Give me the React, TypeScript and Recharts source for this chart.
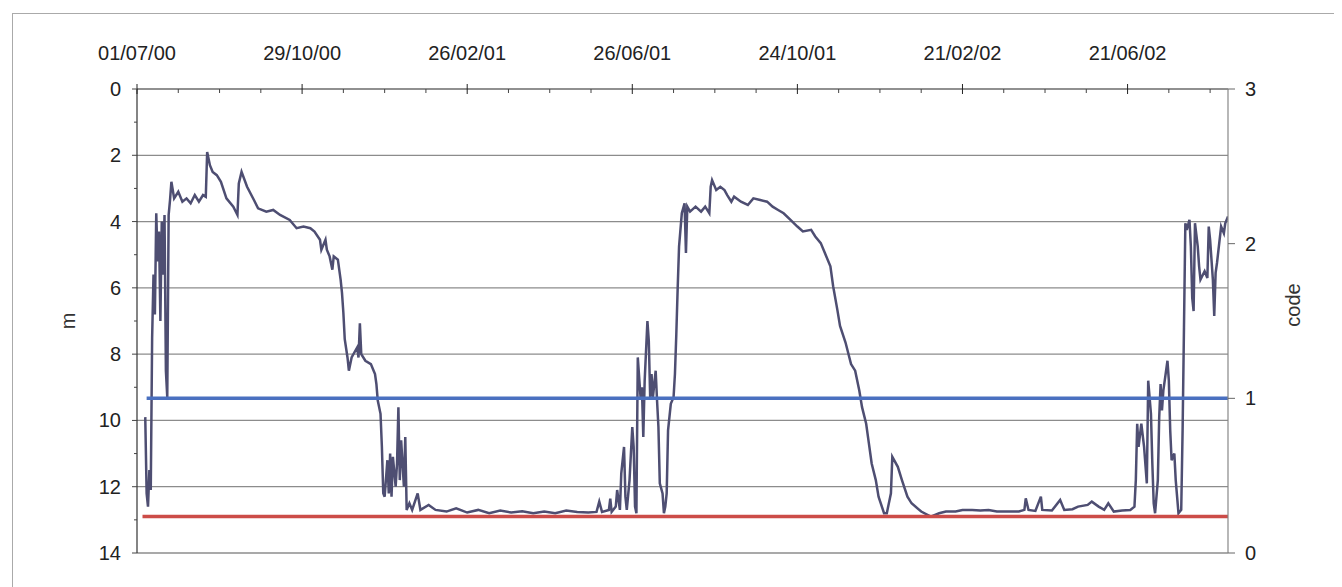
import React from 'react'
import { LineChart, Line, XAxis, YAxis, ReferenceLine } from 'recharts'

// day offsets counted from 01/07/00
const days = [
  6, 7, 8, 9, 10, 11, 12, 13, 14, 15, 16, 17, 18, 19, 20, 21, 22, 23, 24, 25, 27, 30, 33, 36, 39, 42, 45, 48, 50, 51,
  53, 55, 58, 61, 65, 70, 73, 74, 76, 80, 85, 88, 94, 99, 104, 111, 116, 121, 126, 129, 133, 134, 137, 138, 140, 142,
  143, 146, 148, 149, 150, 151, 153, 154, 156, 160, 161, 162, 163, 166, 170, 172, 173, 174, 175, 177, 178, 179, 180,
  182, 183, 184, 185, 186, 188, 189, 190, 191, 192, 194, 195, 196, 198, 200, 204, 206, 212, 217, 225, 232, 240, 248,
  256, 264, 272, 280, 288, 296, 304, 312, 320, 328, 334, 336, 338, 343, 344, 345, 348, 349, 351, 352, 354, 355, 356,
  358, 360, 361, 362, 363, 364, 366, 367, 368, 369, 371, 372, 373, 374, 375, 377, 378, 379, 380, 382, 383, 384, 385,
  386, 388, 390, 391, 392, 393, 394, 395, 396, 398, 399, 400, 402, 406, 410, 413, 416, 417, 418, 421, 424, 427, 429,
  432, 434, 439, 444, 448, 453, 458, 462, 466, 470, 475, 480, 484, 490, 493, 497, 500, 504, 506, 509, 511, 515, 519,
  522, 525, 527, 530, 532, 534, 537, 539, 543, 545, 548, 549, 553, 556, 560, 563, 570, 577, 583, 588, 595, 600, 607,
  613, 619, 625, 631, 636, 641, 645, 646, 648, 653, 657, 658, 665, 671, 674, 680, 684, 691, 694, 699, 703, 706, 710,
  716, 722, 725, 726, 727, 728, 730, 732, 734, 735, 737, 738, 739, 740, 742, 743, 744, 745, 746, 749, 750, 751, 752,
  754, 755, 756, 757, 759, 760, 761, 762, 763, 765, 766, 767, 768, 769, 771, 772, 773, 776, 778, 779, 780, 782, 783,
  784, 785, 788, 790, 791, 793,
]

// depth in m
const depthM = [
  9.9, 12.2, 12.6, 11.5, 12.1, 7.5, 5.6, 6.8, 3.75, 5.2, 4.3, 7.0, 4.0, 5.6, 3.8, 8.5, 9.3, 3.8, 3.35, 2.8, 3.3, 3.1,
  3.4, 3.3, 3.45, 3.2, 3.4, 3.2, 3.25, 1.9, 2.3, 2.5, 2.6, 2.8, 3.3, 3.55, 3.8, 2.85, 2.5, 2.95, 3.35, 3.6, 3.7, 3.65,
  3.8, 3.95, 4.2, 4.15, 4.2, 4.3, 4.55, 4.85, 4.55, 4.85, 5.05, 5.45, 5.05, 5.15, 5.75, 6.15, 6.75, 7.55, 8.1, 8.5,
  8.1, 7.8, 8.1, 7.07, 8.0, 8.2, 8.3, 8.5, 8.6, 8.9, 9.4, 9.8, 10.8, 12.2, 12.3, 11.2, 12.2, 11.0, 12.3, 11.1, 12.0,
  11.3, 9.6, 11.8, 10.6, 12.0, 10.5, 12.7, 12.5, 12.7, 12.2, 12.7, 12.55, 12.7, 12.75, 12.65, 12.78, 12.7, 12.8,
  12.72, 12.78, 12.74, 12.8, 12.75, 12.8, 12.72, 12.76, 12.78, 12.76, 12.45, 12.76, 12.7, 12.36, 12.76, 12.6, 12.1,
  12.7, 11.6, 10.8, 12.3, 12.7, 11.8, 10.2, 10.8, 12.6, 12.8, 8.1, 9.3, 9.0, 10.5, 8.8, 7.0, 7.6, 9.3, 8.6, 9.3, 8.5,
  9.4, 10.2, 11.9, 12.2, 12.8, 12.6, 12.2, 10.3, 9.5, 9.3, 8.6, 7.4, 6.0, 4.75, 4.25, 3.75, 3.45, 4.95, 3.55, 3.7,
  3.55, 3.7, 3.55, 3.75, 2.95, 2.75, 3.05, 2.95, 3.05, 3.2, 3.4, 3.25, 3.4, 3.5, 3.3, 3.35, 3.4, 3.55, 3.65, 3.75,
  3.95, 4.15, 4.3, 4.25, 4.45, 4.65, 4.95, 5.35, 5.95, 6.65, 7.15, 7.65, 8.3, 8.5, 9.1, 9.6, 10.1, 10.7, 11.3, 11.8,
  12.3, 12.8, 12.8, 12.2, 11.1, 11.4, 11.8, 12.3, 12.5, 12.75, 12.9, 12.8, 12.75, 12.75, 12.7, 12.7, 12.72, 12.7,
  12.75, 12.75, 12.75, 12.75, 12.7, 12.35, 12.7, 12.73, 12.3, 12.7, 12.72, 12.4, 12.7, 12.68, 12.6, 12.55, 12.45,
  12.6, 12.7, 12.5, 12.75, 12.72, 12.7, 12.6, 11.8, 10.1, 10.8, 10.1, 10.8, 11.9, 8.8, 9.8, 11.3, 12.5, 12.8, 11.8,
  9.9, 8.9, 9.7, 9.1, 8.2, 8.8, 10.3, 11.2, 11.0, 11.8, 12.3, 12.8, 12.7, 10.3, 7.2, 4.05, 4.25, 3.95, 4.75, 6.3, 6.7,
  4.05, 4.75, 5.35, 5.75, 5.5, 5.7, 4.15, 4.55, 5.75, 6.85, 5.55, 5.25, 4.15, 4.35, 4.05, 3.85,
]

// threshold lines
const blueDays = [7, 793]
const blueCode = [1, 1]
const redDays = [4, 793]
const redDepth = [12.9, 12.9]

const dateLabels = ['01/07/00', '29/10/00', '26/02/01', '26/06/01', '24/10/01', '21/02/02', '21/06/02']
const dayTicks = [
  0, 30, 60, 90, 120, 150, 180, 210, 240, 270, 300, 330, 360, 390, 420, 450, 480, 510, 540, 570, 600, 630, 660, 690,
  720, 750, 780,
]
const depthTicks = [0, 1, 2, 3, 4, 5, 6, 7, 8, 9, 10, 11, 12, 13, 14]
const gridDepths = [2, 4, 6, 8, 10, 12, 14]
const codeTicks = [0, 1, 2, 3]

const FONT = "Arial, 'Liberation Sans', sans-serif"

const depthData = days.map((d, i) => ({ day: d, depth: depthM[i] }))
const blueData = blueDays.map((d, i) => ({ day: d, code: blueCode[i] }))
const redData = redDays.map((d, i) => ({ day: d, depth: redDepth[i] }))

const DateTick = ({ x, y, payload }: any) => {
  const v = payload.value
  const major = v % 120 === 0
  return (
    <g>
      {major ? (
        <line x1={x} x2={x} y1={y - 5} y2={y + 5} stroke="#222" />
      ) : (
        <line x1={x} x2={x} y1={y} y2={y + 4} stroke="#444" />
      )}
      {major && (
        <text x={x} y={y - 29} textAnchor="middle" fontSize={20} fontFamily={FONT} fill="#222">
          {dateLabels[v / 120]}
        </text>
      )}
    </g>
  )
}

const DepthTick = ({ x, y, payload }: any) => {
  const v = payload.value
  const major = v % 2 === 0
  return (
    <g>
      <line x1={x - (major ? 5 : 3)} x2={x} y1={y} y2={y} stroke="#444" />
      {major && (
        <text x={x - 16} y={y + 7} textAnchor="end" fontSize={20} fontFamily={FONT} fill="#222">
          {v}
        </text>
      )}
    </g>
  )
}

const CodeTick = ({ x, y, payload }: any) => (
  <g>
    <line x1={x} x2={x + 7} y1={y} y2={y} stroke="#666" />
    <text x={x + 17} y={y + 7} textAnchor="start" fontSize={20} fontFamily={FONT} fill="#222">
      {payload.value}
    </text>
  </g>
)

export default function App() {
  return (
    <div style={{ position: 'relative', width: 1334, height: 579, overflow: 'hidden', background: '#fff' }}>
      <div
        style={{
          position: 'absolute',
          left: 4,
          top: 5,
          width: 1400,
          height: 700,
          borderLeft: '1px solid #aaa',
          borderTop: '1px solid #aaa',
        }}
      />
      <LineChart
        width={1334}
        height={579}
        margin={{ top: 1, right: 20, bottom: 34, left: 20 }}
        style={{ position: 'absolute', left: 0, top: 0 }}
      >
        <XAxis
          xAxisId="d"
          type="number"
          dataKey="day"
          orientation="top"
          domain={[0, 793]}
          ticks={dayTicks}
          tick={<DateTick />}
          tickSize={0}
          tickMargin={0}
          tickLine={false}
          height={80}
          axisLine={{ stroke: '#222', strokeWidth: 1.2 }}
          allowDataOverflow
        />
        <YAxis
          yAxisId="m"
          orientation="left"
          reversed
          type="number"
          domain={[0, 14]}
          ticks={depthTicks}
          tick={<DepthTick />}
          tickSize={0}
          tickMargin={0}
          tickLine={false}
          width={109}
          interval={0}
          axisLine={{ stroke: '#333', strokeWidth: 1.2 }}
          label={{
            content: (p: any) => {
              const vb = p.viewBox
              const cx = vb.x + 40
              const cy = vb.y + vb.height / 2
              return (
                <text
                  x={cx}
                  y={cy}
                  textAnchor="middle"
                  dominantBaseline="central"
                  transform={`rotate(-90 ${cx} ${cy})`}
                  fontSize={20}
                  fontFamily={FONT}
                  fill="#333"
                >
                  m
                </text>
              )
            },
          }}
        />
        <YAxis
          yAxisId="c"
          orientation="right"
          type="number"
          domain={[0, 3]}
          ticks={codeTicks}
          tick={<CodeTick />}
          tickSize={0}
          tickMargin={0}
          tickLine={false}
          width={94}
          interval={0}
          axisLine={{ stroke: '#888', strokeWidth: 1.2 }}
          label={{
            content: (p: any) => {
              const vb = p.viewBox
              const cx = vb.x + 65
              const cy = vb.y + vb.height / 2 - 16
              return (
                <text
                  x={cx}
                  y={cy}
                  textAnchor="middle"
                  dominantBaseline="central"
                  transform={`rotate(-90 ${cx} ${cy})`}
                  fontSize={20}
                  fontFamily={FONT}
                  fill="#333"
                >
                  code
                </text>
              )
            },
          }}
        />
        {gridDepths.map((g) => (
          <ReferenceLine key={g} xAxisId="d" yAxisId="m" y={g} stroke="#8c8c8c" strokeWidth={1.3} />
        ))}
        <Line
          xAxisId="d"
          yAxisId="m"
          data={depthData}
          dataKey="depth"
          type="linear"
          stroke="#4e4e72"
          strokeWidth={2.5}
          dot={false}
          isAnimationActive={false}
        />
        <Line
          xAxisId="d"
          yAxisId="c"
          data={blueData}
          dataKey="code"
          type="linear"
          stroke="#4a70c0"
          strokeWidth={3.5}
          dot={false}
          isAnimationActive={false}
        />
        <Line
          xAxisId="d"
          yAxisId="m"
          data={redData}
          dataKey="depth"
          type="linear"
          stroke="#cc4c48"
          strokeWidth={3.5}
          dot={false}
          isAnimationActive={false}
        />
      </LineChart>
    </div>
  )
}
